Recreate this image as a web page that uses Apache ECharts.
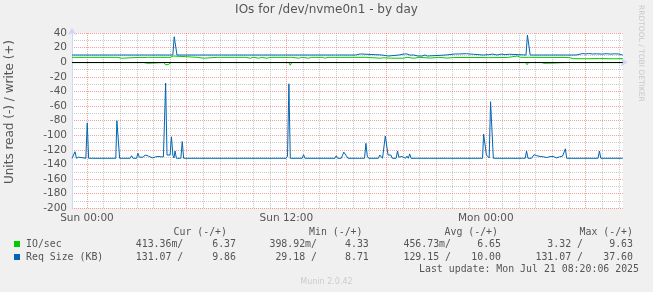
<!DOCTYPE html>
<html><head><meta charset="utf-8">
<script src="https://cdn.jsdelivr.net/npm/echarts@6/dist/echarts.min.js"></script>
<style>html,body{margin:0;padding:0;background:#f0f0f0;}#c{width:653px;height:292px;}</style>
</head><body><div id="c"></div>
<script>
// time in minutes relative to Sun 00:00
const xTickValues = [0, 720, 1440];
const xTickLabels = ['Sun 00:00', 'Sun 12:00', 'Mon 00:00'];
const yTicks = [40, 20, 0, -20, -40, -60, -80, -100, -120, -140, -160, -180, -200];

const seriesNames = ['IO/sec', 'Req Size (KB)'];

const readIO = [[-54,-0.45],[0,-0.45],[5,-1.4],[10,-0.45],[108,-0.45],[113,-1.4],[118,-0.45],[195,-0.45],[200,-1.4],[205,-0.45],[212,-1.4],[218,-1.4],[224,-0.45],[278,-0.45],[283,-3.2],[288,-2],[293,-3.2],[298,-3.2],[303,-0.45],[310,-1.4],[316,-0.45],[322,-1.4],[328,-0.45],[403,-0.45],[408,-1.4],[413,-0.45],[729,-0.45],[734,-4],[739,-0.45],[1072,-0.45],[1077,-1.4],[1082,-0.45],[1427,-0.45],[1432,-1.4],[1437,-0.45],[1451,-0.45],[1456,-1.4],[1461,-0.45],[1584,-0.45],[1589,-3.3],[1594,-0.45],[1632,-0.45],[1637,-1.4],[1642,-0.45],[1650,-1.4],[1656,-1.4],[1662,-1.4],[1667,-0.45],[1729,-0.45],[1734,-1.4],[1739,-0.45],[1934,-0.45]];

const writeIO = [[-54,6.8],[0,6.8],[5,4.6],[10,6.8],[108,6.8],[113,5.6],[125,5.6],[130,6.8],[195,6.8],[200,8.6],[206,6.6],[212,8.6],[218,6.8],[300,6.8],[312,8.6],[318,6.8],[400,6.8],[405,5.6],[420,5.6],[425,6.8],[470,6.8],[476,5.6],[482,6.8],[520,6.8],[526,5.6],[532,6.8],[560,6.8],[566,5.6],[572,6.8],[590,5.6],[600,6.8],[620,5.6],[630,6.8],[650,5.6],[660,6.8],[729,6.8],[734,4.4],[739,6.8],[765,5.6],[775,6.8],[800,5.6],[810,6.8],[850,6.8],[860,5.6],[870,6.8],[1005,6.8],[1012,5.6],[1060,5.6],[1070,6.2],[1100,5.6],[1142,5.6],[1156,6.8],[1180,5.6],[1200,6.8],[1240,5.8],[1270,6.8],[1300,5.8],[1323,6.5],[1400,6.6],[1450,6.4],[1518,6.6],[1554,8.6],[1565,6.8],[1585,6.8],[1590,8.6],[1595,6.8],[1740,6.6],[1756,5],[1800,4.8],[1850,5.2],[1900,4.8],[1934,5]];

const readReq = [[-54,-131.5],[-48,-131.5],[-43,-122.5],[-38,-131.5],[-30,-130],[-25,-131.5],[-4,-131.5],[1,-83],[6,-131.5],[66,-131.5],[71,-130],[76,-131.5],[104,-131.5],[108,-80],[113,-80],[118,-131.5],[156,-131.5],[161,-128],[166,-131.5],[179,-131.5],[184,-124.5],[189,-130],[196,-128.5],[203,-130],[210,-127],[216,-129],[222,-128.5],[229,-130],[236,-131],[242,-130],[248,-129.5],[254,-128.5],[260,-129],[268,-129.5],[276,-129.5],[281,-129],[284,-28.5],[289,-127],[296,-128],[300,-127],[305,-102],[310,-127],[314,-131],[318,-121.5],[323,-131.5],[339,-131.5],[344,-108.5],[349,-131.5],[405,-131.5],[410,-130],[415,-131.5],[445,-131.5],[450,-130],[455,-131.5],[719,-131.5],[724,-128.5],[729,-29.5],[734,-131.5],[777,-131.5],[782,-126.5],[787,-131.5],[895,-131.5],[900,-128],[905,-131.5],[918,-131.5],[922,-128],[927,-123],[932,-125],[937,-128.5],[942,-131.5],[961,-131.5],[966,-130],[971,-131.5],[984,-131.5],[989,-129.5],[994,-131.5],[1002,-131.5],[1007,-111],[1012,-128.5],[1017,-131.5],[1052,-131.5],[1057,-127],[1062,-127],[1067,-131.5],[1073,-131.5],[1077,-101],[1082,-101],[1087,-127],[1092,-128.5],[1097,-127],[1102,-131.5],[1116,-131.5],[1121,-121.5],[1126,-130],[1132,-131.5],[1137,-129],[1142,-131.5],[1150,-131.5],[1155,-128.5],[1160,-131.5],[1165,-125.5],[1170,-131.5],[1190,-131.5],[1195,-130],[1200,-131.5],[1232,-131.5],[1237,-129],[1242,-131.5],[1301,-131.5],[1306,-129],[1311,-131.5],[1428,-131.5],[1432,-98.5],[1437,-98.5],[1442,-127],[1447,-127],[1452,-131],[1457,-54],[1462,-54],[1467,-131.5],[1563,-131.5],[1568,-130],[1573,-131.5],[1582,-131.5],[1587,-121.5],[1592,-131.5],[1605,-131.5],[1610,-130],[1614,-126.5],[1619,-128.5],[1624,-128],[1630,-129],[1636,-129],[1642,-129.5],[1648,-129.5],[1654,-131.5],[1660,-130.5],[1666,-131.5],[1672,-129],[1678,-130.5],[1683,-129],[1689,-129.5],[1695,-131],[1700,-129],[1706,-129.5],[1712,-129],[1717,-128.5],[1722,-131],[1727,-118.5],[1732,-131.5],[1845,-131.5],[1850,-121.5],[1855,-131.5],[1934,-131.5]];

const writeReq = [[-54,10],[0,10],[5,11.4],[10,10],[96,10],[101,8.6],[106,10],[195,10],[200,8.6],[207,10],[214,8.6],[222,10],[310,10],[315,35],[320,35],[325,10],[476,10],[481,11.2],[486,10],[578,10],[583,11.4],[588,10],[692,10],[697,8.6],[702,10],[741,10],[746,8.6],[751,10],[831,10],[836,11.2],[841,10],[897,10],[902,8.6],[907,10],[970,10],[975,11.4],[987,11.4],[992,10],[1065,10],[1070,8.6],[1088,8.6],[1093,10],[1126,10],[1131,11.4],[1145,11.4],[1150,10],[1155,11.4],[1160,11.4],[1165,10],[1180,10],[1185,8.6],[1195,8.6],[1200,10],[1210,8.6],[1220,10],[1229,8.6],[1234,10],[1296,10],[1301,11.4],[1330,11.4],[1335,10.5],[1345,11.4],[1370,11.8],[1380,11.4],[1395,11],[1400,10],[1430,10],[1436,11.2],[1450,10.5],[1465,11.2],[1480,10],[1495,11.2],[1510,10.5],[1525,11],[1530,10],[1585,10],[1590,37.4],[1595,37.4],[1600,10],[1766,10],[1771,11.4],[1790,12],[1800,11.4],[1810,12],[1825,11.4],[1840,11.6],[1860,11.2],[1875,11.8],[1890,11.2],[1905,11.6],[1920,11.4],[1934,10]];

const legendHeaders = ['Cur (-/+)', 'Min (-/+)', 'Avg (-/+)', 'Max (-/+)'];
const ioStats = ['413.36m/', '6.37', '398.92m/', '4.33', '456.73m/', '6.65', '3.32 /', '9.63'];
const reqStats = ['131.07 /', '9.86', '29.18 /', '8.71', '129.15 /', '10.00', '131.07 /', '37.60'];
const lastUpdate = 'Last update: Mon Jul 21 08:20:06 2025';

const GREEN = '#00cc00', BLUE = '#0066b3';
const GRID_GRAY = 'rgba(150,150,150,0.5)';
const GRID_RED = 'rgba(240,80,80,0.55)';
const AXIS = '#cfd6f8';
const FONT = '#555555';

// split line colours cycled over 6-minute ticks starting at -54
const xSplitColors = [];
for (let i = 0; i < 60; i++) {
  xSplitColors.push(i === 9 ? GRID_RED : (i % 10 === 9 ? GRID_GRAY : 'rgba(0,0,0,0)'));
}

const chart = echarts.init(document.getElementById('c'), null, {renderer: 'canvas'});

const mono = 'DejaVu Sans Mono';
const colEnds = [183.3, 236, 317, 368.8, 451, 501, 583, 633];
const headerEnds = [227, 362.5, 498, 633];
const graphics = [];
function txt(x, y, s, opt) {
  graphics.push(Object.assign({type: 'text', x: x, y: y, silent: true,
    style: Object.assign({text: s, fill: FONT, font: '9.9px ' + mono, textAlign: 'right', textVerticalAlign: 'middle'}, opt || {})}));
}
legendHeaders.forEach((h, i) => txt(headerEnds[i], 232.5, h));
ioStats.forEach((s, i) => txt(colEnds[i], 244.5, s));
reqStats.forEach((s, i) => txt(colEnds[i], 257, s));
txt(26, 244.5, seriesNames[0], {textAlign: 'left'});
txt(26, 257, seriesNames[1], {textAlign: 'left'});
txt(639, 269, lastUpdate);
graphics.push({type: 'rect', shape: {x: 14, y: 241, width: 6, height: 6}, style: {fill: GREEN}, silent: true});
graphics.push({type: 'rect', shape: {x: 14, y: 254, width: 6, height: 6}, style: {fill: BLUE}, silent: true});
graphics.push({type: 'text', x: 326.5, y: 10, silent: true,
  style: {text: 'IOs for /dev/nvme0n1 - by day', fill: FONT, font: '12px DejaVu Sans', textAlign: 'center', textVerticalAlign: 'middle'}});
graphics.push({type: 'text', x: 10, y: 112, rotation: Math.PI / 2, silent: true,
  style: {text: 'Units read (-) / write (+)', fill: FONT, font: '12px DejaVu Sans', textAlign: 'center', textVerticalAlign: 'middle'}});
graphics.push({type: 'text', x: 641, y: 5, rotation: -Math.PI / 2, silent: true,
  style: {text: 'RRDTOOL / TOBI OETIKER', fill: '#c8c8c8', font: '7.5px DejaVu Sans', textAlign: 'left', textVerticalAlign: 'middle'}});
graphics.push({type: 'text', x: 326.5, y: 282, silent: true,
  style: {text: 'Munin 2.0.42', fill: '#cccccc', font: '8px DejaVu Sans', textAlign: 'center', textVerticalAlign: 'middle'}});

function line(name, data, color, extra) {
  return Object.assign({type: 'line', name: name, data: data, showSymbol: false, symbol: 'none',
    lineStyle: {color: color, width: 1}, itemStyle: {color: color}, animation: false, silent: true}, extra || {});
}

chart.setOption({
  backgroundColor: '#f0f0f0',
  animation: false,
  grid: {left: 72, right: 30.3, top: 33.1, bottom: 83.7, show: true, backgroundColor: '#ffffff', borderWidth: 0},
  xAxis: {
    type: 'value', min: -54, max: 1934, interval: 6,
    axisLine: {show: true, lineStyle: {color: AXIS, width: 1}, symbol: ['none', 'arrow'], symbolSize: [7, 7], symbolOffset: [0, 5]},
    axisTick: {show: false},
    axisLabel: {
      color: FONT, fontSize: 10.5, fontFamily: 'DejaVu Sans', margin: 4,
      formatter: v => { const i = xTickValues.indexOf(v); return i >= 0 ? xTickLabels[i] : ''; }
    },
    splitLine: {show: true, lineStyle: {color: xSplitColors, width: 1, type: [1, 1]}}
  },
  yAxis: {
    type: 'value', min: -200, max: 40, interval: 20,
    axisLine: {show: true, onZero: false, lineStyle: {color: AXIS, width: 1}, symbol: ['none', 'arrow'], symbolSize: [7, 7], symbolOffset: [0, 5]},
    axisTick: {show: false},
    axisLabel: {color: FONT, fontSize: 10.5, fontFamily: 'DejaVu Sans', margin: 5,
      formatter: v => yTicks.indexOf(v) >= 0 ? String(v) : ''},
    splitLine: {show: true, lineStyle: {color: GRID_RED, width: 1, type: [1, 1]}},
    minorTick: {show: false, splitNumber: 2},
    minorSplitLine: {show: true, lineStyle: {color: GRID_GRAY, width: 1, type: [1, 1]}}
  },
  graphic: graphics,
  series: [
    line(seriesNames[0] + ' read', readIO, GREEN),
    line(seriesNames[0], writeIO, GREEN),
    line(seriesNames[1] + ' read', readReq, BLUE),
    line(seriesNames[1], writeReq, BLUE, {
      markLine: {silent: true, symbol: ['none', 'none'], label: {show: false}, animation: false,
        lineStyle: {color: '#000000', width: 1, type: 'solid'}, data: [{yAxis: 0}]}
    })
  ]
});
</script>
</body></html>
